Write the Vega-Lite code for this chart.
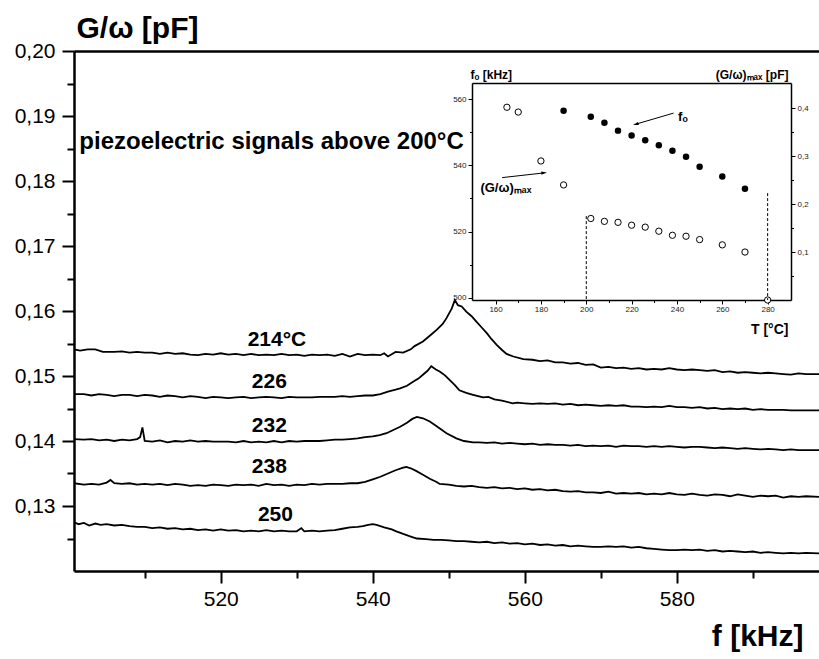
{
"$schema":"https://vega.github.io/schema/vega-lite/v6.json",
"width":745,"height":520,
"autosize":{"type":"none"},
"padding":{"left":74,"top":51,"right":0,"bottom":88},
"background":"white",
"config":{"view":{"stroke":null},"font":"Liberation Sans","axis":{"grid":false,"domainColor":"black","tickColor":"black","labelColor":"black","titleColor":"black"}},
"datasets":{
"curves":[
{"T":214,"f":500.7,"G":0.1541},{"T":214,"f":501.5,"G":0.1539},{"T":214,"f":502.5,"G":0.1541},{"T":214,"f":503.5,"G":0.1541},{"T":214,"f":504.5,"G":0.1537},{"T":214,"f":506,"G":0.1537},{"T":214,"f":507,"G":0.1538},{"T":214,"f":508,"G":0.1536},{"T":214,"f":509,"G":0.1537},{"T":214,"f":510,"G":0.1536},{"T":214,"f":511,"G":0.1536},{"T":214,"f":512,"G":0.1534},{"T":214,"f":513,"G":0.1536},{"T":214,"f":514,"G":0.1534},{"T":214,"f":515,"G":0.1535},{"T":214,"f":516,"G":0.1533},{"T":214,"f":517,"G":0.1532},{"T":214,"f":518,"G":0.1534},{"T":214,"f":519,"G":0.1533},{"T":214,"f":520,"G":0.1535},{"T":214,"f":521,"G":0.1533},{"T":214,"f":522,"G":0.1534},{"T":214,"f":523,"G":0.1532},{"T":214,"f":524,"G":0.1534},{"T":214,"f":525,"G":0.1532},{"T":214,"f":526,"G":0.1533},{"T":214,"f":527,"G":0.1532},{"T":214,"f":528,"G":0.1534},{"T":214,"f":529,"G":0.1532},{"T":214,"f":530,"G":0.1533},{"T":214,"f":531,"G":0.1531},{"T":214,"f":532,"G":0.1533},{"T":214,"f":533,"G":0.1532},{"T":214,"f":534,"G":0.1533},{"T":214,"f":535,"G":0.1531},{"T":214,"f":536,"G":0.1534},{"T":214,"f":537,"G":0.153},{"T":214,"f":538,"G":0.1534},{"T":214,"f":539,"G":0.1532},{"T":214,"f":540,"G":0.1533},{"T":214,"f":541,"G":0.1532},{"T":214,"f":541.5,"G":0.1535},{"T":214,"f":542,"G":0.153},{"T":214,"f":543,"G":0.1537},{"T":214,"f":544,"G":0.1536},{"T":214,"f":545,"G":0.1541},{"T":214,"f":545.5,"G":0.1546},{"T":214,"f":546.6,"G":0.1553},{"T":214,"f":547.5,"G":0.1562},{"T":214,"f":548.4,"G":0.1571},{"T":214,"f":549.2,"G":0.158},{"T":214,"f":549.7,"G":0.1589},{"T":214,"f":550.4,"G":0.1604},{"T":214,"f":550.8,"G":0.1617},{"T":214,"f":551.2,"G":0.1609},{"T":214,"f":551.7,"G":0.1607},{"T":214,"f":552.3,"G":0.1599},{"T":214,"f":553,"G":0.1592},{"T":214,"f":553.6,"G":0.1584},{"T":214,"f":554.3,"G":0.1575},{"T":214,"f":555,"G":0.1566},{"T":214,"f":555.6,"G":0.1557},{"T":214,"f":556.3,"G":0.1548},{"T":214,"f":557,"G":0.154},{"T":214,"f":557.6,"G":0.1534},{"T":214,"f":558.5,"G":0.153},{"T":214,"f":559.8,"G":0.1526},{"T":214,"f":561,"G":0.1525},{"T":214,"f":562,"G":0.1523},{"T":214,"f":563,"G":0.1524},{"T":214,"f":564,"G":0.1521},{"T":214,"f":565,"G":0.1521},{"T":214,"f":566,"G":0.1519},{"T":214,"f":567,"G":0.152},{"T":214,"f":568,"G":0.1517},{"T":214,"f":569,"G":0.1518},{"T":214,"f":570,"G":0.1513},{"T":214,"f":571,"G":0.1514},{"T":214,"f":572,"G":0.1512},{"T":214,"f":573,"G":0.1513},{"T":214,"f":574,"G":0.1511},{"T":214,"f":575,"G":0.1512},{"T":214,"f":576,"G":0.151},{"T":214,"f":577,"G":0.1511},{"T":214,"f":578,"G":0.151},{"T":214,"f":579,"G":0.1512},{"T":214,"f":580,"G":0.151},{"T":214,"f":581,"G":0.1509},{"T":214,"f":582,"G":0.151},{"T":214,"f":583,"G":0.1509},{"T":214,"f":584,"G":0.1508},{"T":214,"f":585,"G":0.1509},{"T":214,"f":586,"G":0.1506},{"T":214,"f":587,"G":0.1507},{"T":214,"f":588,"G":0.1505},{"T":214,"f":589,"G":0.1506},{"T":214,"f":590,"G":0.1505},{"T":214,"f":591,"G":0.1504},{"T":214,"f":592,"G":0.1505},{"T":214,"f":593,"G":0.1504},{"T":214,"f":594,"G":0.1503},{"T":214,"f":595,"G":0.1502},{"T":214,"f":596,"G":0.1504},{"T":214,"f":597,"G":0.1503},{"T":214,"f":598.7,"G":0.1503},
{"T":226,"f":500.7,"G":0.1472},{"T":226,"f":502,"G":0.1472},{"T":226,"f":503,"G":0.147},{"T":226,"f":504,"G":0.1472},{"T":226,"f":505,"G":0.1471},{"T":226,"f":506,"G":0.1469},{"T":226,"f":507,"G":0.1471},{"T":226,"f":508,"G":0.1471},{"T":226,"f":509,"G":0.1469},{"T":226,"f":510,"G":0.1471},{"T":226,"f":511,"G":0.147},{"T":226,"f":512,"G":0.1468},{"T":226,"f":513,"G":0.147},{"T":226,"f":514,"G":0.1469},{"T":226,"f":515,"G":0.1467},{"T":226,"f":516,"G":0.1469},{"T":226,"f":517,"G":0.1468},{"T":226,"f":518,"G":0.1466},{"T":226,"f":519,"G":0.1468},{"T":226,"f":520,"G":0.1467},{"T":226,"f":521,"G":0.1466},{"T":226,"f":522,"G":0.1467},{"T":226,"f":523,"G":0.1468},{"T":226,"f":524,"G":0.1466},{"T":226,"f":525,"G":0.1467},{"T":226,"f":526,"G":0.1468},{"T":226,"f":527,"G":0.1467},{"T":226,"f":528,"G":0.1466},{"T":226,"f":529,"G":0.1468},{"T":226,"f":530,"G":0.1467},{"T":226,"f":531,"G":0.1467},{"T":226,"f":532,"G":0.1467},{"T":226,"f":533,"G":0.1468},{"T":226,"f":534,"G":0.1468},{"T":226,"f":535,"G":0.1468},{"T":226,"f":536,"G":0.1469},{"T":226,"f":537,"G":0.1468},{"T":226,"f":538,"G":0.1469},{"T":226,"f":539,"G":0.147},{"T":226,"f":540,"G":0.147},{"T":226,"f":541,"G":0.1472},{"T":226,"f":542,"G":0.1476},{"T":226,"f":543,"G":0.1479},{"T":226,"f":543.6,"G":0.1481},{"T":226,"f":544.5,"G":0.1485},{"T":226,"f":545.3,"G":0.1491},{"T":226,"f":546,"G":0.1496},{"T":226,"f":546.6,"G":0.1502},{"T":226,"f":547.2,"G":0.1508},{"T":226,"f":547.7,"G":0.1515},{"T":226,"f":548.3,"G":0.151},{"T":226,"f":548.8,"G":0.1507},{"T":226,"f":549.5,"G":0.1501},{"T":226,"f":550.1,"G":0.1494},{"T":226,"f":550.8,"G":0.1486},{"T":226,"f":551.4,"G":0.1478},{"T":226,"f":552.3,"G":0.1474},{"T":226,"f":553.2,"G":0.1471},{"T":226,"f":554.5,"G":0.1467},{"T":226,"f":555.2,"G":0.1468},{"T":226,"f":556,"G":0.1464},{"T":226,"f":557,"G":0.1462},{"T":226,"f":558.4,"G":0.1458},{"T":226,"f":559,"G":0.1459},{"T":226,"f":560,"G":0.1458},{"T":226,"f":561,"G":0.1457},{"T":226,"f":562,"G":0.1458},{"T":226,"f":563,"G":0.1457},{"T":226,"f":564,"G":0.1458},{"T":226,"f":565,"G":0.1456},{"T":226,"f":566,"G":0.1457},{"T":226,"f":567,"G":0.1455},{"T":226,"f":568,"G":0.1456},{"T":226,"f":569,"G":0.1455},{"T":226,"f":570,"G":0.1454},{"T":226,"f":571,"G":0.1455},{"T":226,"f":572,"G":0.1454},{"T":226,"f":573,"G":0.1455},{"T":226,"f":574,"G":0.1453},{"T":226,"f":575,"G":0.1453},{"T":226,"f":576,"G":0.1452},{"T":226,"f":577,"G":0.1453},{"T":226,"f":578,"G":0.1452},{"T":226,"f":579,"G":0.1454},{"T":226,"f":580,"G":0.1452},{"T":226,"f":581,"G":0.1452},{"T":226,"f":582,"G":0.1451},{"T":226,"f":583,"G":0.1452},{"T":226,"f":584,"G":0.145},{"T":226,"f":585,"G":0.1451},{"T":226,"f":586,"G":0.1449},{"T":226,"f":587,"G":0.145},{"T":226,"f":588,"G":0.1449},{"T":226,"f":589,"G":0.145},{"T":226,"f":590,"G":0.1448},{"T":226,"f":591,"G":0.1449},{"T":226,"f":592,"G":0.1448},{"T":226,"f":593,"G":0.1448},{"T":226,"f":594,"G":0.1448},{"T":226,"f":595,"G":0.1447},{"T":226,"f":596,"G":0.1447},{"T":226,"f":597,"G":0.1447},{"T":226,"f":598.7,"G":0.1447},
{"T":232,"f":500.7,"G":0.1403},{"T":232,"f":502,"G":0.1402},{"T":232,"f":503,"G":0.1403},{"T":232,"f":504,"G":0.1401},{"T":232,"f":505,"G":0.1402},{"T":232,"f":506,"G":0.14},{"T":232,"f":507,"G":0.1402},{"T":232,"f":508,"G":0.1401},{"T":232,"f":509,"G":0.1403},{"T":232,"f":509.4,"G":0.1406},{"T":232,"f":509.7,"G":0.1421},{"T":232,"f":510,"G":0.14},{"T":232,"f":511,"G":0.1399},{"T":232,"f":512,"G":0.1401},{"T":232,"f":513,"G":0.1398},{"T":232,"f":514,"G":0.14},{"T":232,"f":515,"G":0.1399},{"T":232,"f":516,"G":0.1401},{"T":232,"f":517,"G":0.1399},{"T":232,"f":518,"G":0.14},{"T":232,"f":519,"G":0.1399},{"T":232,"f":520,"G":0.1399},{"T":232,"f":521,"G":0.1399},{"T":232,"f":522,"G":0.1398},{"T":232,"f":523,"G":0.14},{"T":232,"f":524,"G":0.1398},{"T":232,"f":525,"G":0.1399},{"T":232,"f":526,"G":0.1398},{"T":232,"f":527,"G":0.14},{"T":232,"f":528,"G":0.1398},{"T":232,"f":529,"G":0.14},{"T":232,"f":530,"G":0.1399},{"T":232,"f":531,"G":0.14},{"T":232,"f":532,"G":0.14},{"T":232,"f":533,"G":0.14},{"T":232,"f":534,"G":0.1401},{"T":232,"f":535,"G":0.1402},{"T":232,"f":536,"G":0.1402},{"T":232,"f":537,"G":0.1403},{"T":232,"f":538,"G":0.1404},{"T":232,"f":539,"G":0.1406},{"T":232,"f":540,"G":0.1407},{"T":232,"f":540.9,"G":0.1409},{"T":232,"f":541.8,"G":0.1412},{"T":232,"f":542.7,"G":0.1417},{"T":232,"f":543.6,"G":0.1422},{"T":232,"f":544.5,"G":0.1428},{"T":232,"f":545.2,"G":0.1434},{"T":232,"f":545.8,"G":0.1437},{"T":232,"f":546.6,"G":0.1435},{"T":232,"f":547.5,"G":0.143},{"T":232,"f":548.5,"G":0.1422},{"T":232,"f":549.7,"G":0.1412},{"T":232,"f":551,"G":0.1404},{"T":232,"f":552,"G":0.14},{"T":232,"f":553.2,"G":0.1398},{"T":232,"f":554,"G":0.1398},{"T":232,"f":555,"G":0.1397},{"T":232,"f":556,"G":0.1398},{"T":232,"f":557,"G":0.1396},{"T":232,"f":558,"G":0.1397},{"T":232,"f":559,"G":0.1396},{"T":232,"f":560,"G":0.1395},{"T":232,"f":561,"G":0.1396},{"T":232,"f":562,"G":0.1394},{"T":232,"f":563,"G":0.1395},{"T":232,"f":564,"G":0.1394},{"T":232,"f":565,"G":0.1394},{"T":232,"f":566,"G":0.1393},{"T":232,"f":567,"G":0.1394},{"T":232,"f":568,"G":0.1392},{"T":232,"f":569,"G":0.1393},{"T":232,"f":570,"G":0.1392},{"T":232,"f":571,"G":0.1393},{"T":232,"f":572,"G":0.1391},{"T":232,"f":573,"G":0.1393},{"T":232,"f":574,"G":0.1392},{"T":232,"f":575,"G":0.1392},{"T":232,"f":576,"G":0.1391},{"T":232,"f":577,"G":0.1392},{"T":232,"f":578,"G":0.1391},{"T":232,"f":579,"G":0.1392},{"T":232,"f":580,"G":0.1391},{"T":232,"f":581,"G":0.139},{"T":232,"f":582,"G":0.1391},{"T":232,"f":583,"G":0.1391},{"T":232,"f":584,"G":0.139},{"T":232,"f":585,"G":0.1389},{"T":232,"f":586,"G":0.139},{"T":232,"f":587,"G":0.1389},{"T":232,"f":588,"G":0.1388},{"T":232,"f":589,"G":0.1389},{"T":232,"f":590,"G":0.1388},{"T":232,"f":591,"G":0.1387},{"T":232,"f":592,"G":0.1388},{"T":232,"f":593,"G":0.1387},{"T":232,"f":594,"G":0.1386},{"T":232,"f":595,"G":0.1387},{"T":232,"f":596,"G":0.1386},{"T":232,"f":597,"G":0.1386},{"T":232,"f":598.7,"G":0.1386},
{"T":238,"f":500.7,"G":0.1335},{"T":238,"f":502,"G":0.1333},{"T":238,"f":503,"G":0.1334},{"T":238,"f":504,"G":0.1333},{"T":238,"f":505,"G":0.1336},{"T":238,"f":505.5,"G":0.134},{"T":238,"f":506,"G":0.1335},{"T":238,"f":507,"G":0.1334},{"T":238,"f":508,"G":0.1335},{"T":238,"f":509,"G":0.1333},{"T":238,"f":510,"G":0.1334},{"T":238,"f":511,"G":0.1333},{"T":238,"f":512,"G":0.1334},{"T":238,"f":513,"G":0.1332},{"T":238,"f":514,"G":0.1334},{"T":238,"f":515,"G":0.1333},{"T":238,"f":516,"G":0.1331},{"T":238,"f":517,"G":0.1332},{"T":238,"f":518,"G":0.1331},{"T":238,"f":519,"G":0.1333},{"T":238,"f":520,"G":0.1332},{"T":238,"f":521,"G":0.1331},{"T":238,"f":522,"G":0.1333},{"T":238,"f":523,"G":0.1332},{"T":238,"f":524,"G":0.1333},{"T":238,"f":525,"G":0.1331},{"T":238,"f":526,"G":0.1334},{"T":238,"f":527,"G":0.1332},{"T":238,"f":528,"G":0.1333},{"T":238,"f":529,"G":0.1331},{"T":238,"f":530,"G":0.1333},{"T":238,"f":531,"G":0.1332},{"T":238,"f":532,"G":0.1334},{"T":238,"f":533,"G":0.1333},{"T":238,"f":534,"G":0.1334},{"T":238,"f":535,"G":0.1334},{"T":238,"f":536,"G":0.1334},{"T":238,"f":537,"G":0.1335},{"T":238,"f":538,"G":0.1335},{"T":238,"f":539,"G":0.1337},{"T":238,"f":540,"G":0.1341},{"T":238,"f":541,"G":0.1345},{"T":238,"f":542,"G":0.135},{"T":238,"f":543,"G":0.1355},{"T":238,"f":544,"G":0.1359},{"T":238,"f":544.4,"G":0.136},{"T":238,"f":545,"G":0.1358},{"T":238,"f":545.7,"G":0.1354},{"T":238,"f":546.6,"G":0.1348},{"T":238,"f":547.5,"G":0.1342},{"T":238,"f":548.4,"G":0.1337},{"T":238,"f":548.8,"G":0.1334},{"T":238,"f":550,"G":0.1333},{"T":238,"f":551,"G":0.1331},{"T":238,"f":552,"G":0.133},{"T":238,"f":553,"G":0.1331},{"T":238,"f":554,"G":0.1329},{"T":238,"f":555,"G":0.1328},{"T":238,"f":556,"G":0.1329},{"T":238,"f":557,"G":0.1327},{"T":238,"f":558,"G":0.1328},{"T":238,"f":559,"G":0.1326},{"T":238,"f":560,"G":0.1327},{"T":238,"f":561,"G":0.1325},{"T":238,"f":562,"G":0.1326},{"T":238,"f":563,"G":0.1324},{"T":238,"f":564,"G":0.1325},{"T":238,"f":565,"G":0.1323},{"T":238,"f":566,"G":0.1322},{"T":238,"f":567,"G":0.1323},{"T":238,"f":568,"G":0.1321},{"T":238,"f":569,"G":0.1321},{"T":238,"f":570,"G":0.132},{"T":238,"f":571,"G":0.1322},{"T":238,"f":572,"G":0.1319},{"T":238,"f":573,"G":0.132},{"T":238,"f":574,"G":0.1319},{"T":238,"f":575,"G":0.132},{"T":238,"f":576,"G":0.1318},{"T":238,"f":577,"G":0.1319},{"T":238,"f":578,"G":0.1318},{"T":238,"f":579,"G":0.132},{"T":238,"f":580,"G":0.1318},{"T":238,"f":581,"G":0.1317},{"T":238,"f":582,"G":0.1319},{"T":238,"f":583,"G":0.1317},{"T":238,"f":584,"G":0.1316},{"T":238,"f":585,"G":0.1318},{"T":238,"f":586,"G":0.1317},{"T":238,"f":587,"G":0.1315},{"T":238,"f":588,"G":0.1318},{"T":238,"f":589,"G":0.1316},{"T":238,"f":590,"G":0.1314},{"T":238,"f":591,"G":0.1316},{"T":238,"f":592,"G":0.1315},{"T":238,"f":593,"G":0.1316},{"T":238,"f":594,"G":0.1313},{"T":238,"f":595,"G":0.1315},{"T":238,"f":596,"G":0.1314},{"T":238,"f":597,"G":0.1315},{"T":238,"f":598.7,"G":0.1314},
{"T":250,"f":500.7,"G":0.1275},{"T":250,"f":501.3,"G":0.1272},{"T":250,"f":502,"G":0.1274},{"T":250,"f":502.7,"G":0.127},{"T":250,"f":503.5,"G":0.1273},{"T":250,"f":504.2,"G":0.1271},{"T":250,"f":505,"G":0.1272},{"T":250,"f":506,"G":0.127},{"T":250,"f":507,"G":0.1271},{"T":250,"f":508,"G":0.1269},{"T":250,"f":509,"G":0.1268},{"T":250,"f":510,"G":0.1268},{"T":250,"f":511,"G":0.1266},{"T":250,"f":512,"G":0.1267},{"T":250,"f":513,"G":0.1265},{"T":250,"f":514,"G":0.1266},{"T":250,"f":515,"G":0.1264},{"T":250,"f":516,"G":0.1265},{"T":250,"f":517,"G":0.1263},{"T":250,"f":518,"G":0.1264},{"T":250,"f":519,"G":0.1262},{"T":250,"f":520,"G":0.1264},{"T":250,"f":521,"G":0.1262},{"T":250,"f":522,"G":0.1263},{"T":250,"f":523,"G":0.1261},{"T":250,"f":524,"G":0.1262},{"T":250,"f":525,"G":0.1261},{"T":250,"f":526,"G":0.1263},{"T":250,"f":527,"G":0.1261},{"T":250,"f":528,"G":0.1262},{"T":250,"f":529,"G":0.1261},{"T":250,"f":530,"G":0.1261},{"T":250,"f":530.6,"G":0.1266},{"T":250,"f":531,"G":0.1261},{"T":250,"f":532,"G":0.1262},{"T":250,"f":533,"G":0.1261},{"T":250,"f":534,"G":0.1262},{"T":250,"f":535,"G":0.1263},{"T":250,"f":536,"G":0.1265},{"T":250,"f":537,"G":0.1267},{"T":250,"f":538,"G":0.1268},{"T":250,"f":538.7,"G":0.1269},{"T":250,"f":539.4,"G":0.1271},{"T":250,"f":540,"G":0.1272},{"T":250,"f":540.5,"G":0.1271},{"T":250,"f":541.5,"G":0.1267},{"T":250,"f":542.5,"G":0.1264},{"T":250,"f":543.1,"G":0.1261},{"T":250,"f":544,"G":0.1257},{"T":250,"f":545,"G":0.1253},{"T":250,"f":545.8,"G":0.125},{"T":250,"f":547,"G":0.1249},{"T":250,"f":548,"G":0.1248},{"T":250,"f":549,"G":0.1248},{"T":250,"f":550,"G":0.1247},{"T":250,"f":551,"G":0.1246},{"T":250,"f":552,"G":0.1246},{"T":250,"f":553,"G":0.1245},{"T":250,"f":554,"G":0.1244},{"T":250,"f":555,"G":0.1245},{"T":250,"f":556,"G":0.1243},{"T":250,"f":557,"G":0.1244},{"T":250,"f":558,"G":0.1242},{"T":250,"f":559,"G":0.1243},{"T":250,"f":560,"G":0.1241},{"T":250,"f":561,"G":0.1242},{"T":250,"f":562,"G":0.124},{"T":250,"f":563,"G":0.1241},{"T":250,"f":564,"G":0.1239},{"T":250,"f":565,"G":0.124},{"T":250,"f":566,"G":0.1238},{"T":250,"f":567,"G":0.1239},{"T":250,"f":568,"G":0.1238},{"T":250,"f":569,"G":0.1237},{"T":250,"f":570,"G":0.1237},{"T":250,"f":571,"G":0.1238},{"T":250,"f":572,"G":0.1237},{"T":250,"f":573,"G":0.1238},{"T":250,"f":574,"G":0.1236},{"T":250,"f":575,"G":0.1237},{"T":250,"f":576,"G":0.1235},{"T":250,"f":577,"G":0.1234},{"T":250,"f":578,"G":0.1233},{"T":250,"f":579,"G":0.1232},{"T":250,"f":580,"G":0.1232},{"T":250,"f":581,"G":0.1233},{"T":250,"f":582,"G":0.1232},{"T":250,"f":583,"G":0.1233},{"T":250,"f":584,"G":0.1231},{"T":250,"f":585,"G":0.1232},{"T":250,"f":586,"G":0.123},{"T":250,"f":587,"G":0.1231},{"T":250,"f":588,"G":0.123},{"T":250,"f":589,"G":0.1229},{"T":250,"f":590,"G":0.123},{"T":250,"f":591,"G":0.1228},{"T":250,"f":592,"G":0.1229},{"T":250,"f":593,"G":0.1228},{"T":250,"f":594,"G":0.1227},{"T":250,"f":595,"G":0.1228},{"T":250,"f":596,"G":0.1227},{"T":250,"f":597,"G":0.1228},{"T":250,"f":598.7,"G":0.1227}
],
"curveLabels":[
{"label":"214°C","f":527.4,"G":0.15554},
{"label":"226","f":526.4,"G":0.14908},
{"label":"232","f":526.4,"G":0.14238},
{"label":"238","f":526.4,"G":0.1360},
{"label":"250","f":527.2,"G":0.12869}
],
"note":[{"text":"piezoelectric signals above 200°C","f":501.4,"G":0.18492}],
"fo":[
{"T":190,"f":556.5},{"T":202,"f":554.7},{"T":208,"f":552.9},{"T":214,"f":550.5},{"T":220,"f":549.0},{"T":226,"f":547.6},{"T":232,"f":546.1},{"T":238,"f":544.4},{"T":244,"f":542.6},{"T":250,"f":539.6},{"T":260,"f":536.6},{"T":270,"f":532.9}
],
"gmax":[
{"T":165,"G":0.402},{"T":170,"G":0.392},{"T":180,"G":0.29},{"T":190,"G":0.24},{"T":202,"G":0.17},{"T":208,"G":0.164},{"T":214,"G":0.162},{"T":220,"G":0.156},{"T":226,"G":0.152},{"T":232,"G":0.1435},{"T":238,"G":0.135},{"T":244,"G":0.133},{"T":250,"G":0.126},{"T":260,"G":0.115},{"T":270,"G":0.1},{"T":280,"G":0.0}
],
"limits":[{"T":200,"G":0.175},{"T":280,"G":0.223}],
"arrows":[
{"T0":238.5,"f0":555.8,"T1":222.1,"f1":552.5},
{"T0":162.9,"f0":536.3,"T1":181.1,"f1":537.7}
],
"insetLabels":[
{"text":"fₒ","T":240.5,"f":553.4},
{"text":"(G/ω)ₘₐₓ","T":153.3,"f":532.0}
]
},
"resolve":{"scale":{"x":"independent","y":"independent"},"axis":{"x":"independent","y":"independent"}},
"layer":[
{
"data":{"name":"curves"},
"mark":{"type":"line","color":"black","strokeWidth":1.8},
"encoding":{
"x":{"field":"f","type":"quantitative","scale":{"domain":[500.7,598.7],"nice":false,"zero":false},
"axis":{"orient":"bottom","values":[510,520,530,540,550,560,570,580,590],"labelExpr":"datum.value % 20 == 0 ? datum.label : ''","tickSize":{"condition":{"test":"datum.value % 20 == 0","value":12},"value":7},"tickWidth":2,"domainWidth":2.5,"labelFont":"Liberation Sans","labelFontSize":21,"labelPadding":5,"title":"f [kHz]","titleFont":"Liberation Sans","titleFontSize":30,"titleFontWeight":"bold","titleAngle":0,"titleAlign":"right","titleBaseline":"alphabetic","titleX":729,"titleY":74}},
"y":{"field":"G","type":"quantitative","scale":{"domain":[0.12,0.2],"nice":false,"zero":false},
"axis":{"orient":"left","values":[0.125,0.13,0.135,0.14,0.145,0.15,0.155,0.16,0.165,0.17,0.175,0.18,0.185,0.19,0.195,0.2],"labelExpr":"round(datum.value*1000) % 10 == 0 ? replace(format(datum.value,'.2f'),'.',',') : ''","tickSize":{"condition":{"test":"round(datum.value*1000) % 10 == 0","value":12},"value":7},"tickWidth":2,"domainWidth":2.5,"labelFont":"Liberation Sans","labelFontSize":21,"labelPadding":7,"title":"G/ω [pF]","titleFont":"Liberation Sans","titleFontSize":30,"titleFontWeight":"bold","titleAngle":0,"titleAlign":"left","titleBaseline":"alphabetic","titleX":2,"titleY":-14}},
"detail":{"field":"T","type":"nominal"}
}
},
{
"data":{"name":"curveLabels"},
"mark":{"type":"text","font":"Liberation Sans","fontSize":21,"fontWeight":"bold","align":"center","baseline":"middle","color":"black"},
"encoding":{
"x":{"field":"f","type":"quantitative","scale":{"domain":[500.7,598.7],"nice":false,"zero":false},"axis":{"orient":"top","ticks":false,"labels":false,"title":null,"domainWidth":2.5}},
"y":{"field":"G","type":"quantitative","scale":{"domain":[0.12,0.2],"nice":false,"zero":false},"axis":null},
"text":{"field":"label","type":"nominal"}
}
},
{
"data":{"name":"note"},
"mark":{"type":"text","font":"Liberation Sans","fontSize":24,"fontWeight":"bold","align":"left","baseline":"alphabetic","color":"black"},
"encoding":{
"x":{"field":"f","type":"quantitative","scale":{"domain":[500.7,598.7],"nice":false,"zero":false},"axis":null},
"y":{"field":"G","type":"quantitative","scale":{"domain":[0.12,0.2],"nice":false,"zero":false},"axis":null},
"text":{"field":"text","type":"nominal"}
}
},
{
"data":{"name":"fo"},
"mark":{"type":"point","shape":"circle","filled":true,"color":"black","size":42,"opacity":1},
"encoding":{
"x":{"field":"T","type":"quantitative","scale":{"domain":[149.6,290.3],"range":[398,717],"nice":false,"zero":false},
"axis":{"orient":"bottom","offset":-271,"values":[160,170,180,190,200,210,220,230,240,250,260,270,280],"labelExpr":"datum.value % 20 == 0 ? datum.label : ''","tickSize":{"condition":{"test":"datum.value % 20 == 0","value":4},"value":2.5},"tickWidth":1,"domainWidth":1.5,"labelFont":"Liberation Sans","labelFontSize":8,"labelColor":"#222","labelPadding":1,"title":"T [°C]","titleFont":"Liberation Sans","titleFontSize":14,"titleFontWeight":"bold","titleAngle":0,"titleAlign":"right","titleBaseline":"alphabetic","titleX":714,"titleY":33}},
"y":{"field":"f","type":"quantitative","scale":{"domain":[499.3,564.9],"range":[249,32],"nice":false,"zero":false},
"axis":{"orient":"left","offset":-398,"values":[500,510,520,530,540,550,560],"labelExpr":"datum.value % 20 == 0 ? datum.label : ''","tickSize":{"condition":{"test":"datum.value % 20 == 0","value":4},"value":2.5},"tickWidth":1,"domainWidth":1.5,"labelFont":"Liberation Sans","labelFontSize":8,"labelColor":"#222","labelPadding":2,"title":"fₒ [kHz]","titleFont":"Liberation Sans","titleFontSize":12,"titleFontWeight":"bold","titleAngle":0,"titleAlign":"left","titleBaseline":"alphabetic","titleX":-2,"titleY":27}}
}
},
{
"data":{"name":"gmax"},
"mark":{"type":"point","shape":"circle","filled":true,"fill":"white","stroke":"black","strokeWidth":1,"size":40,"opacity":1},
"encoding":{
"x":{"field":"T","type":"quantitative","scale":{"domain":[149.6,290.3],"range":[398,717],"nice":false,"zero":false},
"axis":{"orient":"top","offset":-32,"ticks":false,"labels":false,"title":null,"domainWidth":1.5}},
"y":{"field":"G","type":"quantitative","scale":{"domain":[0,0.4526],"range":[249,32],"nice":false,"zero":false},
"axis":{"orient":"right","offset":-28,"values":[0.05,0.1,0.15,0.2,0.25,0.3,0.35,0.4],"labelExpr":"round(datum.value*100) % 10 == 0 ? replace(format(datum.value,'.1f'),'.',',') : ''","tickSize":{"condition":{"test":"round(datum.value*100) % 10 == 0","value":4},"value":2.5},"tickWidth":1,"domainWidth":1.5,"labelFont":"Liberation Sans","labelFontSize":8,"labelColor":"#222","labelPadding":2,"title":"(G/ω)ₘₐₓ [pF]","titleFont":"Liberation Sans","titleFontSize":12,"titleFontWeight":"bold","titleAngle":0,"titleAlign":"right","titleBaseline":"alphabetic","titleX":-3,"titleY":27}}
}
},
{
"data":{"name":"limits"},
"mark":{"type":"rule","color":"black","strokeWidth":1,"strokeDash":[3,2]},
"encoding":{
"x":{"field":"T","type":"quantitative","scale":{"domain":[149.6,290.3],"range":[398,717],"nice":false,"zero":false},"axis":null},
"y":{"field":"G","type":"quantitative","scale":{"domain":[0,0.4526],"range":[249,32],"nice":false,"zero":false},"axis":null},
"y2":{"datum":0}
}
},
{
"data":{"name":"arrows"},
"mark":{"type":"rule","color":"black","strokeWidth":1},
"encoding":{
"x":{"field":"T0","type":"quantitative","scale":{"domain":[149.6,290.3],"range":[398,717],"nice":false,"zero":false},"axis":null},
"y":{"field":"f0","type":"quantitative","scale":{"domain":[499.3,564.9],"range":[249,32],"nice":false,"zero":false},"axis":null},
"x2":{"field":"T1"},
"y2":{"field":"f1"}
}
},
{
"data":{"values":[{"T":222.1,"f":552.5}]},
"mark":{"type":"point","shape":"M0,-1L0.45,0.6L-0.45,0.6Z","filled":true,"color":"black","size":50,"angle":253,"opacity":1},
"encoding":{
"x":{"field":"T","type":"quantitative","scale":{"domain":[149.6,290.3],"range":[398,717],"nice":false,"zero":false},"axis":null},
"y":{"field":"f","type":"quantitative","scale":{"domain":[499.3,564.9],"range":[249,32],"nice":false,"zero":false},"axis":null}
}
},
{
"data":{"values":[{"T":181.1,"f":537.7}]},
"mark":{"type":"point","shape":"M0,-1L0.45,0.6L-0.45,0.6Z","filled":true,"color":"black","size":50,"angle":84,"opacity":1},
"encoding":{
"x":{"field":"T","type":"quantitative","scale":{"domain":[149.6,290.3],"range":[398,717],"nice":false,"zero":false},"axis":null},
"y":{"field":"f","type":"quantitative","scale":{"domain":[499.3,564.9],"range":[249,32],"nice":false,"zero":false},"axis":null}
}
},
{
"data":{"name":"insetLabels"},
"mark":{"type":"text","font":"Liberation Sans","fontSize":13,"fontWeight":"bold","align":"left","baseline":"alphabetic","color":"black"},
"encoding":{
"x":{"field":"T","type":"quantitative","scale":{"domain":[149.6,290.3],"range":[398,717],"nice":false,"zero":false},"axis":null},
"y":{"field":"f","type":"quantitative","scale":{"domain":[499.3,564.9],"range":[249,32],"nice":false,"zero":false},"axis":null},
"text":{"field":"text","type":"nominal"}
}
}
]
}
